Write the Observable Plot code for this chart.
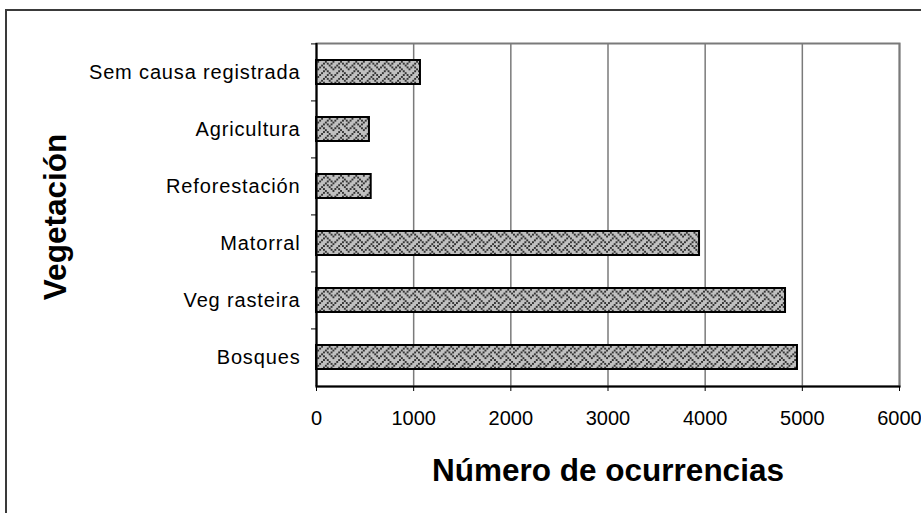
<!DOCTYPE html>
<html>
<head>
<meta charset="utf-8">
<script src="https://cdn.jsdelivr.net/npm/d3@7"></script>
<script src="https://cdn.jsdelivr.net/npm/@observablehq/plot@0.6"></script>
<style>
  html, body { margin: 0; padding: 0; background: #fff; overflow: hidden; }
  #wrap { position: relative; width: 921px; height: 513px; }
  #border { position: absolute; left: 5px; top: 9px; width: 1000px; height: 1000px; border: 2px solid #3a3a3a; box-sizing: border-box; pointer-events: none; }
  svg { display: block; }
  .ylab text { letter-spacing: 0.85px; }
</style>
</head>
<body>
<div id="wrap"><div id="border"></div></div>
<script>
const categories = ["Sem causa registrada", "Agricultura", "Reforestación", "Matorral", "Veg rasteira", "Bosques"];
const values = [1070, 545, 563, 3942, 4827, 4950];
const xTicks = [0, 1000, 2000, 3000, 4000, 5000, 6000];
const xTitle = "Número de ocurrencias";
const yTitle = "Vegetación";

const data = categories.map((c, i) => ({category: c, value: values[i]}));

const font = "'Liberation Sans', Arial, sans-serif";

const svg = Plot.plot({
  width: 921,
  height: 513,
  marginLeft: 316,
  marginRight: 22,
  marginTop: 43,
  marginBottom: 127,
  style: {fontFamily: font, fontSize: "20px", color: "#000", background: "transparent", overflow: "visible"},
  x: {domain: [0, 6000], ticks: xTicks, label: null},
  y: {domain: categories, paddingInner: 0.58, paddingOuter: 0.29, label: null},
  marks: [
    Plot.gridX(xTicks, {stroke: "#7a7a7a", strokeOpacity: 1, strokeWidth: 1.5}),
    Plot.frame({stroke: "#7a7a7a", strokeWidth: 2}),
    Plot.barX(data, {x: "value", y: "category", fill: "url(#weave)", stroke: "#000", strokeWidth: 2}),
    Plot.ruleX([0], {stroke: "#000", strokeWidth: 2}),
    Plot.frame({anchor: "bottom", stroke: "#000", strokeWidth: 2}),
    Plot.axisY({tickSize: 5, tickFormat: () => "", dy: -28.58, stroke: "#000"}),
    Plot.axisY({tickSize: 0, tickPadding: 16, fontSize: 20, label: null, className: "ylab"}),
    Plot.axisX({ticks: xTicks, tickSize: 5, tickPadding: 19, fontSize: 20, tickFormat: d => String(d), label: null}),
    Plot.text([xTitle], {frameAnchor: "bottom", dy: 94, fontSize: 31.5, fontWeight: "bold", fill: "#000"}),
    Plot.text([yTitle], {frameAnchor: "left", textAnchor: "middle", rotate: -90, dx: -261, dy: 2, fontSize: 31.5, fontWeight: "bold", fill: "#000"})
  ]
});

// Excel-like "weave" hatch (8x8 bitmap, scaled)
const weaveRows = [0x11, 0x2a, 0x44, 0xa2, 0x11, 0x28, 0x44, 0x8a];
const s = 1.9;
let cells = "";
weaveRows.forEach((row, r) => {
  for (let c = 0; c < 8; c++) {
    if (row & (0x80 >> c)) cells += `<rect x="${c * s}" y="${r * s}" width="${s}" height="${s}" fill="#333"/>`;
  }
});
svg.insertAdjacentHTML("afterbegin",
  `<defs><pattern id="weave" patternUnits="userSpaceOnUse" width="${8 * s}" height="${8 * s}">` +
  `<rect width="${8 * s}" height="${8 * s}" fill="#c0c0c0"/>` + cells +
  `</pattern></defs>`);

document.getElementById("wrap").prepend(svg);
</script>
</body>
</html>
